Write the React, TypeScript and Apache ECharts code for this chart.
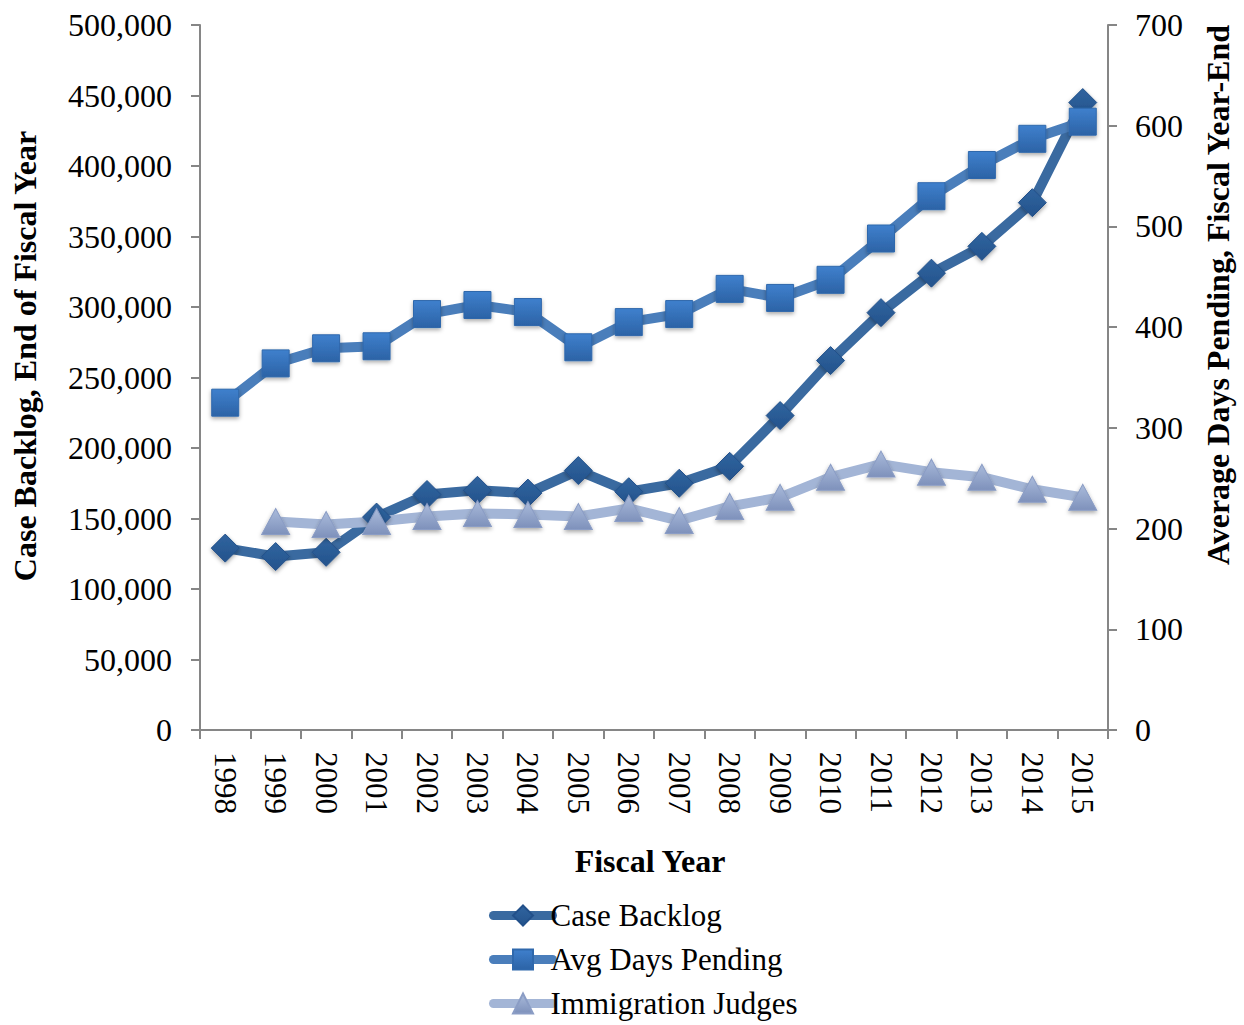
import React, { useEffect, useRef } from "react";
import * as echarts from "echarts";

const years = ["1998","1999","2000","2001","2002","2003","2004","2005","2006","2007","2008","2009","2010","2011","2012","2013","2014","2015"];
const caseBacklog = [129000,123000,126000,151000,167000,170000,168000,184000,169000,175000,187000,223000,262000,296000,324000,343000,374000,445000];
const avgDaysPending = [325,364,379,381,413,422,415,380,405,413,438,429,447,488,530,561,587,604];
const immigrationJudges = [null,207,204,207,212,215,214,212,220,208,222,231,251,264,256,251,239,231];

const FONT = "'Liberation Serif', 'Times New Roman', serif";
const AXIS_COLOR = "#868686";

function grad(top: string, bottom: string) {
  return {
    type: "linear", x: 0, y: 0, x2: 0, y2: 1,
    colorStops: [{ offset: 0, color: top }, { offset: 1, color: bottom }],
  };
}

export default function App() {
  const ref = useRef<HTMLDivElement>(null);
  useEffect(() => {
    const chart = echarts.init(ref.current!, null, { renderer: "svg" });
    const shadow = { shadowBlur: 4, shadowColor: "rgba(0,0,0,0.35)", shadowOffsetY: 2 };
    chart.setOption({
      animation: false,
      backgroundColor: "#ffffff",
      grid: { left: 200, right: 136, top: 25, bottom: 295, containLabel: false },
      xAxis: {
        type: "category",
        data: years,
        boundaryGap: true,
        axisLine: { show: true, lineStyle: { color: AXIS_COLOR, width: 2 } },
        axisTick: { show: true, length: 9, lineStyle: { color: AXIS_COLOR, width: 2 } },
        axisLabel: { interval: 0, rotate: -90, margin: 22, fontFamily: FONT, fontSize: 31, color: "#000" },
        splitLine: { show: false },
      },
      yAxis: [
        {
          type: "value", min: 0, max: 500000, interval: 50000, position: "left",
          axisLine: { show: true, lineStyle: { color: AXIS_COLOR, width: 2 } },
          axisTick: { show: true, length: 9, lineStyle: { color: AXIS_COLOR, width: 2 } },
          axisLabel: {
            margin: 28, fontFamily: FONT, fontSize: 32, color: "#000",
            formatter: (v: number) => v.toLocaleString("en-US"),
          },
          splitLine: { show: false },
        },
        {
          type: "value", min: 0, max: 700, interval: 100, position: "right",
          axisLine: { show: true, lineStyle: { color: AXIS_COLOR, width: 2 } },
          axisTick: { show: true, length: 9, lineStyle: { color: AXIS_COLOR, width: 2 } },
          axisLabel: { margin: 27, fontFamily: FONT, fontSize: 32, color: "#000" },
          splitLine: { show: false },
        },
      ],
      legend: {
        orient: "vertical",
        left: 489,
        top: 900,
        height: 200,
        padding: 0,
        itemWidth: 59,
        itemHeight: 25,
        itemGap: 13,
        lineStyle: { width: 9, cap: "round" },
        textStyle: { fontFamily: FONT, fontSize: 31, color: "#000", padding: [0, 0, 0, -7] },
        data: ["Case Backlog", "Avg Days Pending", "Immigration Judges"],
      },
      graphic: [
        {
          type: "text", x: 25, y: 356, rotation: Math.PI / 2,
          style: { text: "Case Backlog, End of Fiscal Year", fontFamily: FONT, fontSize: 32, fontWeight: "bold", fill: "#000", align: "center", verticalAlign: "middle" },
        },
        {
          type: "text", x: 1218, y: 295, rotation: Math.PI / 2,
          style: { text: "Average Days Pending, Fiscal Year-End", fontFamily: FONT, fontSize: 32, fontWeight: "bold", fill: "#000", align: "center", verticalAlign: "middle" },
        },
        {
          type: "text", x: 650, y: 861,
          style: { text: "Fiscal Year", fontFamily: FONT, fontSize: 32, fontWeight: "bold", fill: "#000", align: "center", verticalAlign: "middle" },
        },
      ],
      series: [
        {
          name: "Case Backlog",
          type: "line",
          yAxisIndex: 0,
          data: caseBacklog,
          symbol: "diamond",
          symbolSize: [28, 28],
          lineStyle: { color: "#3a6aa0", width: 10, cap: "round", join: "round" },
          itemStyle: { color: grad("#30649f", "#24538c"), borderColor: "#22508a", borderWidth: 1, ...shadow },
        },
        {
          name: "Avg Days Pending",
          type: "line",
          yAxisIndex: 1,
          data: avgDaysPending,
          symbol: "rect",
          symbolSize: [27, 27],
          lineStyle: { color: "#4a7ebb", width: 10, cap: "round", join: "round" },
          itemStyle: { color: grad("#3f80cd", "#2c63a6"), borderColor: "#2f68ac", borderWidth: 1, ...shadow },
        },
        {
          name: "Immigration Judges",
          type: "line",
          yAxisIndex: 1,
          data: immigrationJudges,
          connectNulls: false,
          symbol: "triangle",
          symbolSize: [28, 26],
          lineStyle: { color: "#a3b5d6", width: 10, cap: "round", join: "round" },
          itemStyle: { color: grad("#aabbdb", "#7e91bb"), borderColor: "#8b9dc5", borderWidth: 1, ...shadow },
        },
      ],
    });
    return () => chart.dispose();
  }, []);
  return <div ref={ref} style={{ width: 1244, height: 1025, position: "absolute", left: 0, top: 0 }} />;
}
